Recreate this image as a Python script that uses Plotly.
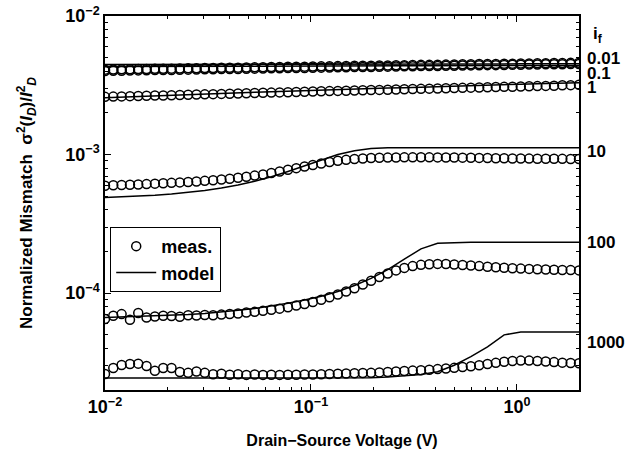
import plotly.graph_objects as go
import numpy as np

# Drain-source voltage (V) for measured points
X_MEAS = [0.0100, 0.01097, 0.01204, 0.01322, 0.01450, 0.01591, 0.01747, 0.01917, 0.02103, 0.02308,
          0.02533, 0.02780, 0.03051, 0.03348, 0.03674, 0.04032, 0.04424, 0.04856, 0.05329, 0.05848,
          0.06418, 0.07043, 0.07729, 0.08482, 0.09307, 0.1021, 0.1121, 0.1230, 0.1350, 0.1481,
          0.1626, 0.1784, 0.1957, 0.2148, 0.2358, 0.2587, 0.2839, 0.3116, 0.3419, 0.3752,
          0.4118, 0.4519, 0.4959, 0.5442, 0.5972, 0.6554, 0.7193, 0.7893, 0.8662, 0.9506,
          1.043, 1.145, 1.256, 1.379, 1.513, 1.660, 1.822, 2.000]

# Drain-source voltage (V) for model curves
X_MODEL = [0.0100, 0.01204, 0.01450, 0.01747, 0.02103, 0.02533, 0.03051, 0.03674, 0.04424, 0.05329,
           0.06418, 0.07729, 0.09307, 0.1121, 0.1350, 0.1626, 0.1957, 0.2358, 0.2839, 0.3419,
           0.4118, 0.4959, 0.5972, 0.7193, 0.8662, 1.043, 1.256, 1.513, 1.822, 2.000]

IF_LABELS = ["0.01", "0.1", "1", "10", "100", "1000"]

X_TICKVALS = [0.01, 0.1, 1]
X_TICKTEXT = ["10<sup>\u22122</sup>", "10<sup>\u22121</sup>", "10<sup>0</sup>"]
Y_TICKVALS = [1e-4, 1e-3, 1e-2]
Y_TICKTEXT = ["10<sup>\u22124</sup>", "10<sup>\u22123</sup>", "10<sup>\u22122</sup>"]

MEAS_001 = [v * 1e-3 for v in [
    4.10, 4.11, 4.12, 4.13, 4.14, 4.15, 4.16, 4.16, 4.17, 4.18,
    4.19, 4.20, 4.21, 4.22, 4.23, 4.23, 4.24, 4.25, 4.26, 4.27,
    4.28, 4.29, 4.30, 4.30, 4.31, 4.32, 4.33, 4.34, 4.35, 4.36,
    4.37, 4.37, 4.38, 4.39, 4.40, 4.41, 4.42, 4.43, 4.44, 4.44,
    4.45, 4.46, 4.47, 4.48, 4.49, 4.50, 4.51, 4.51, 4.52, 4.53,
    4.54, 4.55, 4.56, 4.57, 4.58, 4.58, 4.59, 4.60]]
MEAS_01 = [v * 1e-3 for v in [
    4.01, 4.02, 4.03, 4.04, 4.05, 4.06, 4.07, 4.07, 4.08, 4.09,
    4.10, 4.11, 4.12, 4.13, 4.14, 4.14, 4.15, 4.16, 4.17, 4.18,
    4.19, 4.20, 4.21, 4.21, 4.22, 4.23, 4.24, 4.25, 4.26, 4.27,
    4.28, 4.28, 4.29, 4.30, 4.31, 4.32, 4.33, 4.34, 4.35, 4.35,
    4.36, 4.37, 4.38, 4.39, 4.40, 4.41, 4.42, 4.42, 4.43, 4.44,
    4.45, 4.46, 4.47, 4.48, 4.49, 4.49, 4.50, 4.51]]
MEAS_1 = [v * 1e-3 for v in [
    2.61, 2.62, 2.63, 2.64, 2.65, 2.66, 2.67, 2.67, 2.68, 2.69,
    2.70, 2.71, 2.72, 2.73, 2.74, 2.75, 2.76, 2.77, 2.78, 2.79,
    2.80, 2.81, 2.82, 2.83, 2.84, 2.85, 2.86, 2.87, 2.88, 2.89,
    2.90, 2.91, 2.92, 2.93, 2.94, 2.95, 2.96, 2.97, 2.98, 2.99,
    3.00, 3.01, 3.02, 3.03, 3.04, 3.05, 3.06, 3.07, 3.08, 3.09,
    3.10, 3.11, 3.12, 3.13, 3.14, 3.16, 3.17, 3.19]]
MEAS_10 = [v * 1e-4 for v in [
    5.96, 6.00, 6.03, 6.05, 6.08, 6.12, 6.17, 6.21, 6.25, 6.30,
    6.34, 6.40, 6.46, 6.53, 6.61, 6.70, 6.81, 6.92, 7.05, 7.19,
    7.36, 7.55, 7.76, 7.98, 8.20, 8.41, 8.63, 8.83, 9.02, 9.16,
    9.29, 9.38, 9.44, 9.48, 9.51, 9.53, 9.55, 9.55, 9.56, 9.55,
    9.54, 9.53, 9.52, 9.50, 9.48, 9.46, 9.44, 9.42, 9.40, 9.38,
    9.36, 9.35, 9.34, 9.33, 9.32, 9.31, 9.30, 9.30]]
MEAS_100 = [v * 1e-5 for v in [
    6.50, 6.87, 7.06, 6.43, 7.18, 6.68, 6.79, 6.87, 6.84, 6.76,
    6.92, 6.89, 6.95, 6.92, 7.00, 7.08, 7.14, 7.24, 7.33, 7.45,
    7.59, 7.73, 7.91, 8.13, 8.36, 8.63, 8.95, 9.33, 9.77, 10.28,
    10.86, 11.53, 12.30, 13.09, 13.87, 14.59, 15.21, 15.67, 16.00, 16.18,
    16.26, 16.22, 16.11, 15.96, 15.81, 15.67, 15.52, 15.38, 15.24, 15.14,
    15.03, 14.96, 14.89, 14.83, 14.76, 14.69, 14.66, 14.59]]
MEAS_1000 = [v * 1e-5 for v in [
    2.61, 2.88, 3.03, 3.08, 3.10, 2.98, 2.75, 2.88, 2.88, 2.70,
    2.66, 2.72, 2.66, 2.60, 2.62, 2.58, 2.60, 2.57, 2.59, 2.57,
    2.58, 2.57, 2.58, 2.58, 2.59, 2.59, 2.60, 2.61, 2.62, 2.63,
    2.64, 2.65, 2.66, 2.68, 2.70, 2.72, 2.74, 2.76, 2.78, 2.80,
    2.83, 2.86, 2.89, 2.93, 2.97, 3.02, 3.08, 3.14, 3.20, 3.24,
    3.26, 3.26, 3.24, 3.21, 3.18, 3.15, 3.13, 3.12]]

MODEL_001 = [v * 1e-3 for v in [
    4.46, 4.46, 4.46, 4.47, 4.47, 4.47, 4.47, 4.48, 4.48, 4.48,
    4.48, 4.49, 4.49, 4.49, 4.49, 4.50, 4.50, 4.50, 4.50, 4.50,
    4.51, 4.51, 4.51, 4.51, 4.51, 4.52, 4.52, 4.52, 4.52, 4.52]]
MODEL_01 = [v * 1e-3 for v in [
    4.32, 4.32, 4.33, 4.33, 4.33, 4.34, 4.34, 4.34, 4.35, 4.35,
    4.35, 4.36, 4.36, 4.36, 4.36, 4.37, 4.37, 4.37, 4.37, 4.38,
    4.38, 4.38, 4.38, 4.39, 4.39, 4.39, 4.39, 4.40, 4.40, 4.40]]
MODEL_1 = [v * 1e-3 for v in [
    2.57, 2.60, 2.63, 2.66, 2.69, 2.72, 2.74, 2.77, 2.79, 2.82,
    2.84, 2.87, 2.89, 2.92, 2.94, 2.97, 2.99, 3.02, 3.04, 3.07,
    3.09, 3.12, 3.14, 3.17, 3.19, 3.22, 3.24, 3.27, 3.29, 3.30]]
MODEL_10 = [v * 1e-4 for v in [
    4.91, 4.95, 5.01, 5.09, 5.19, 5.32, 5.50, 5.73, 6.03, 6.43,
    6.92, 7.55, 8.32, 9.16, 10.00, 10.67, 11.04, 11.19, 11.22, 11.22,
    11.22, 11.22, 11.22, 11.22, 11.22, 11.22, 11.22, 11.22, 11.22, 11.22]]
MODEL_100 = [v * 1e-5 for v in [
    6.68, 6.73, 6.78, 6.84, 6.92, 7.02, 7.14, 7.31, 7.52, 7.76,
    8.07, 8.45, 8.91, 9.51, 10.28, 11.35, 12.79, 14.79, 17.58, 20.89,
    22.91, 23.23, 23.28, 23.28, 23.28, 23.28, 23.28, 23.28, 23.28, 23.28]]
MODEL_1000 = [v * 1e-5 for v in [
    2.44, 2.44, 2.44, 2.44, 2.44, 2.44, 2.44, 2.44, 2.44, 2.44,
    2.44, 2.44, 2.44, 2.44, 2.44, 2.44, 2.45, 2.48, 2.52, 2.59,
    2.71, 3.02, 3.48, 4.09, 5.00, 5.24, 5.24, 5.24, 5.24, 5.24]]

MEAS = [MEAS_001, MEAS_01, MEAS_1, MEAS_10, MEAS_100, MEAS_1000]
MODELS = [MODEL_001, MODEL_01, MODEL_1, MODEL_10, MODEL_100, MODEL_1000]
# label heights (value on the y axis) for the i_f annotations
LABEL_Y = [4.95e-3, 3.85e-3, 3.03e-3, 1.05e-3, 2.33e-4, 4.44e-5]

FONT = "Liberation Sans, Arial, Helvetica, sans-serif"

fig = go.Figure()
for k, model in enumerate(MODELS):
    fig.add_trace(go.Scatter(
        x=X_MODEL, y=model, mode="lines", name="model",
        line=dict(color="black", width=1.5),
        legendgroup="model", showlegend=(k == 0)))
for k, meas in enumerate(MEAS):
    fig.add_trace(go.Scatter(
        x=X_MEAS, y=meas, mode="markers", name="meas.",
        marker=dict(symbol="circle-open", size=9, color="black",
                    line=dict(color="black", width=1.5)),
        legendgroup="meas", showlegend=(k == 0)))

annotations = []
for lab, yv in zip(IF_LABELS, LABEL_Y):
    annotations.append(dict(
        text=lab, x=1.012, xref="paper", y=np.log10(yv), yref="y",
        xanchor="left", yanchor="middle", showarrow=False,
        font=dict(family=FONT, size=17, color="black", weight="bold")))
annotations.append(dict(
    text="i<sub>f</sub>", x=1.025, xref="paper", y=np.log10(7.3e-3), yref="y",
    xanchor="left", yanchor="middle", showarrow=False,
    font=dict(family=FONT, size=17, color="black", weight="bold")))

def minor_vals(lo, hi):
    vals = []
    for e in range(lo, hi):
        for m in range(2, 10):
            vals.append(m * 10.0 ** e)
    return vals

axis_common = dict(
    type="log", showgrid=False, zeroline=False, automargin=False,
    showline=True, linecolor="black", linewidth=1.5, mirror="allticks",
    ticks="inside", ticklen=6, tickwidth=1, tickcolor="black",
    tickfont=dict(family=FONT, size=18, color="black", weight="bold"),
)

fig.update_layout(
    width=642, height=459,
    margin=dict(l=105, r=63, t=16, b=69),
    paper_bgcolor="white", plot_bgcolor="white",
    font=dict(family=FONT, color="black"),
    xaxis=dict(axis_common, range=[-2, np.log10(2.0)],
               tickmode="array", tickvals=X_TICKVALS, ticktext=X_TICKTEXT,
               minor=dict(ticks="inside", ticklen=3, tickcolor="black", showgrid=False,
                          tickmode="array", tickvals=minor_vals(-2, 1)),
               title=dict(text="Drain\u2212Source Voltage (V)", standoff=18,
                          font=dict(family=FONT, size=16, color="black", weight="bold"))),
    yaxis=dict(axis_common, range=[np.log10(2e-5), -2],
               tickmode="array", tickvals=Y_TICKVALS, ticktext=Y_TICKTEXT,
               minor=dict(ticks="inside", ticklen=3, tickcolor="black", showgrid=False,
                          tickmode="array", tickvals=minor_vals(-5, -2)),
               title=dict(text="Normalized Mismatch  \u03c3<sup>2</sup>(<i>I</i><sub><i>D</i></sub>)/<i>I</i><sup>2</sup><sub><i>D</i></sub>",
                          standoff=28,
                          font=dict(family=FONT, size=17, color="black", weight="bold"))),
    legend=dict(x=0.011, y=0.436, xanchor="left", yanchor="top",
                bgcolor="white", bordercolor="black", borderwidth=1,
                font=dict(family=FONT, size=18, color="black", weight="bold"),
                traceorder="reversed", itemwidth=40, tracegroupgap=0),
    annotations=annotations,
    showlegend=True,
)

fig.write_html("out.html")
